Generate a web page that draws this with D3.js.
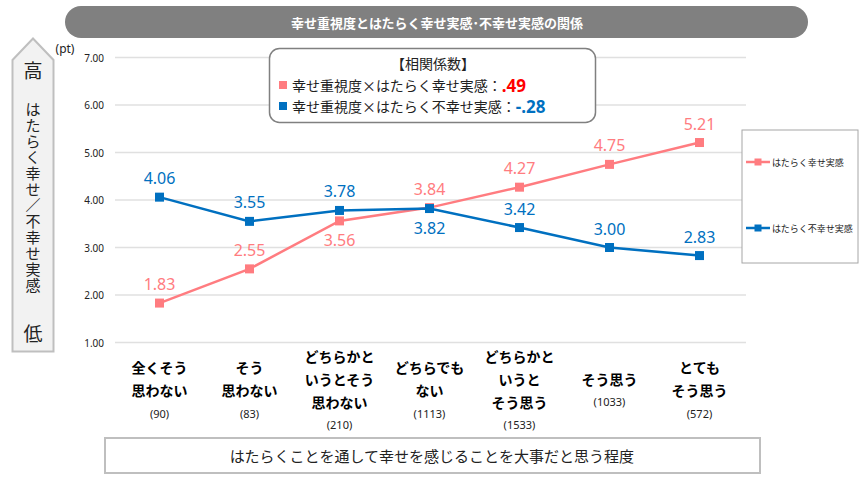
<!DOCTYPE html>
<html><head><meta charset="utf-8">
<script src="https://cdn.jsdelivr.net/npm/d3@7"></script>
<style>
html,body{margin:0;padding:0;background:#fff;}
svg{display:block;font-family:"Noto Sans CJK JP","Noto Sans",sans-serif;}
</style></head>
<body>
<svg id="c" width="867" height="477"></svg>
<script>
const categories = ["全くそう\n思わない","そう\n思わない","どちらかと\nいうとそう\n思わない","どちらでも\nない","どちらかと\nいうと\nそう思う","そう思う","とても\nそう思う"];
const counts = [90, 83, 210, 1113, 1533, 1033, 572];
const happySeries = [1.83, 2.55, 3.56, 3.84, 4.27, 4.75, 5.21];
const unhappySeries = [4.06, 3.55, 3.78, 3.82, 3.42, 3.00, 2.83];
const seriesNames = ["はたらく幸せ実感", "はたらく不幸せ実感"];
const yTicks = [1, 2, 3, 4, 5, 6, 7];
const titleText = "幸せ重視度とはたらく幸せ実感･不幸せ実感の関係";
const corrTitle = "【相関係数】";
const corrLabels = ["幸せ重視度×はたらく幸せ実感：", "幸せ重視度×はたらく不幸せ実感："];
const corrValues = [".49", "-.28"];
const xAxisTitle = "はたらくことを通して幸せを感じることを大事だと思う程度";
const sideTop = "高", sideBottom = "低", sideText = "はたらく幸せ／不幸せ実感";
const unitText = "(pt)";

const PINK = "#FF7C80", BLUE = "#0070C0";
const svg = d3.select("#c");

// title bar
svg.append("rect").attr("x",65).attr("y",6).attr("width",743).attr("height",32).attr("rx",16).attr("fill","#808080");
svg.append("text").attr("x",437).attr("y",22).attr("text-anchor","middle").attr("dominant-baseline","central")
  .attr("fill","#fff").attr("font-weight","bold").attr("font-size",13).text(titleText);

// left arrow box
svg.append("path").attr("d","M12.5,60 L33,38.5 L53.5,60 L53.5,351.5 L12.5,351.5 Z")
  .attr("fill","#f2f2f2").attr("stroke","#bfbfbf").attr("stroke-width",2);
svg.append("text").attr("x",33).attr("y",69).attr("text-anchor","middle").attr("dominant-baseline","central")
  .attr("font-size",19).attr("fill","#222").text(sideTop);
svg.append("text").attr("x",33).attr("y",332).attr("text-anchor","middle").attr("dominant-baseline","central")
  .attr("font-size",19).attr("fill","#222").text(sideBottom);
svg.append("text").attr("x",33).attr("y",102)
  .style("writing-mode","vertical-rl").style("text-orientation","upright")
  .style("font-feature-settings","'vert' 0")
  .attr("letter-spacing",1).attr("font-size",15).attr("fill","#222").text(sideText);

// scales
const x = d3.scaleBand().domain(categories).range([114.5, 744.5]).padding(0);
const y = d3.scaleLinear().domain([1,7]).range([342.5, 57.5]);
const cx = c => x(c) + x.bandwidth()/2;

// gridlines
svg.append("g").selectAll("line").data(yTicks).join("line")
  .attr("x1",115).attr("x2",746).attr("y1",d=>y(d)).attr("y2",d=>y(d))
  .attr("stroke","#e0e0e0").attr("stroke-width",1.5);

// y tick labels
svg.append("g").selectAll("text").data(yTicks).join("text")
  .attr("x",104).attr("y",d=>y(d)).attr("text-anchor","end").attr("dominant-baseline","central")
  .attr("font-family","Noto Sans").attr("font-size",10).attr("fill","#222").text(d=>d3.format(".2f")(d));
svg.append("text").attr("x",65).attr("y",48).attr("text-anchor","middle").attr("dominant-baseline","central")
  .attr("font-family","Noto Sans").attr("font-size",12).attr("fill","#222").text(unitText);

// series
const series = [
  {name: seriesNames[0], values: happySeries, color: PINK, other: unhappySeries},
  {name: seriesNames[1], values: unhappySeries, color: BLUE, other: happySeries}
];
const line = d3.line().x((d,i)=>cx(categories[i])).y(d=>y(d));
series.forEach(s=>{
  svg.append("path").datum(s.values).attr("d",line).attr("fill","none").attr("stroke",s.color).attr("stroke-width",2.5);
  svg.append("g").selectAll("rect").data(s.values).join("rect")
    .attr("x",(d,i)=>cx(categories[i])-4.5).attr("y",d=>y(d)-4.5).attr("width",9).attr("height",9).attr("fill",s.color);
  svg.append("g").selectAll("text").data(s.values).join("text")
    .attr("x",(d,i)=>cx(categories[i]))
    .attr("y",(d,i)=>{
      const below = s.other[i] > d && s.other[i]-d < 0.5;
      return below ? y(d)+25 : y(d)-13;
    })
    .attr("text-anchor","middle").attr("font-family","Noto Sans").attr("font-size",16).attr("fill",s.color)
    .text(d=>d3.format(".2f")(d));
});

// category labels
categories.forEach((c,i)=>{
  const lines = c.split("\n");
  const n = lines.length + 1;
  const step = 23;
  const top = 390 - (n-1)/2*step;
  lines.forEach((t,j)=>{
    svg.append("text").attr("x",cx(c)).attr("y",top+j*step).attr("text-anchor","middle").attr("dominant-baseline","central")
      .attr("font-weight","bold").attr("font-size",14).attr("fill","#000").text(t);
  });
  svg.append("text").attr("x",cx(c)).attr("y",top+lines.length*step).attr("text-anchor","middle").attr("dominant-baseline","central")
    .attr("font-family","Noto Sans").attr("font-size",11).attr("fill","#222").text("("+counts[i]+")");
});

// x axis title box
svg.append("rect").attr("x",105).attr("y",438).attr("width",655).attr("height",35)
  .attr("fill","#fff").attr("stroke","#bfbfbf").attr("stroke-width",2);
svg.append("text").attr("x",432).attr("y",455).attr("text-anchor","middle").attr("dominant-baseline","central")
  .attr("font-size",15).attr("fill","#222").text(xAxisTitle);

// correlation box
svg.append("rect").attr("x",269.5).attr("y",48.5).attr("width",326).attr("height",74).attr("rx",10)
  .attr("fill","#fff").attr("stroke","#808080").attr("stroke-width",1.5);
svg.append("text").attr("x",433).attr("y",63).attr("text-anchor","middle").attr("dominant-baseline","central")
  .attr("font-size",14).attr("fill","#222").text(corrTitle);
[0,1].forEach(k=>{
  const yy = 85 + k*21;
  svg.append("rect").attr("x",279).attr("y",yy-4).attr("width",8).attr("height",8).attr("fill",series[k].color);
  const t = svg.append("text").attr("x",292).attr("y",yy).attr("dominant-baseline","central").attr("font-size",14).attr("fill","#222");
  t.append("tspan").text(corrLabels[k]);
  t.append("tspan").attr("font-family","Noto Sans").attr("font-weight","bold").attr("font-size",17)
    .attr("fill", k===0 ? "#FF0000" : BLUE).text(corrValues[k]);
});

// legend
svg.append("rect").attr("x",742).attr("y",130).attr("width",116).attr("height",133)
  .attr("fill","#fff").attr("stroke","#a6a6a6").attr("stroke-width",1);
[162, 228].forEach((ly,k)=>{
  svg.append("line").attr("x1",746).attr("x2",770).attr("y1",ly).attr("y2",ly).attr("stroke",series[k].color).attr("stroke-width",2.5);
  svg.append("rect").attr("x",754.5).attr("y",ly-3.5).attr("width",7).attr("height",7).attr("fill",series[k].color);
  svg.append("text").attr("x",772).attr("y",ly).attr("dominant-baseline","central").attr("font-size",9).attr("fill","#222").text(series[k].name);
});
</script>
</body></html>
